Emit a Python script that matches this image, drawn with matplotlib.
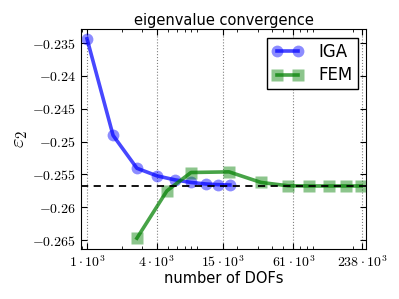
import matplotlib
matplotlib.use("Agg")
import matplotlib.pyplot as plt
from matplotlib.ticker import FixedLocator, FixedFormatter, FuncFormatter

plt.rcParams['mathtext.fontset'] = 'cm'
plt.rcParams['xtick.direction'] = 'in'
plt.rcParams['ytick.direction'] = 'in'
plt.rcParams['xtick.top'] = True
plt.rcParams['ytick.right'] = True

# data
iga_dofs = [1000, 1680, 2700, 4030, 5760, 7920, 10700, 13600, 17200]
iga_eig = [-0.23435, -0.24905, -0.25405, -0.25521, -0.25582, -0.25621,
           -0.25645, -0.25655, -0.25660]
fem_dofs = [2700, 4910, 7920, 16900, 31900, 54600, 83000, 123500, 173200, 233600]
fem_eig = [-0.26470, -0.25749, -0.25470, -0.25460, -0.25621, -0.25672,
           -0.25675, -0.25675, -0.25675, -0.25675]
ref_eig = -0.25672

x_ticks = [1000, 4000, 15000, 61000, 238000]
x_labels = [r'$1\cdot10^3$', r'$4\cdot10^3$', r'$15\cdot10^3$',
            r'$61\cdot10^3$', r'$238\cdot10^3$']

fig = plt.figure(figsize=(3.99, 2.99), dpi=100)
ax = fig.add_axes([0.203, 0.166, 0.714, 0.736])

ax.plot(iga_dofs, iga_eig, '-o', color=(0, 0, 1, 0.72), lw=2.6,
        ms=8.5, mfc=(0, 0, 1, 0.45), mec=(0, 0, 1, 0.0), label='IGA')
ax.plot(fem_dofs, fem_eig, '-s', color=(0, 0.5, 0, 0.72), lw=2.6,
        ms=8.5, mfc=(0, 0.5, 0, 0.45), mec=(0, 0.5, 0, 0.0), label='FEM')
ax.axhline(ref_eig, color='k', ls='--', lw=1.3, dashes=(4, 3))

ax.set_xscale('log')
ax.set_xlim(887, 258000)
ax.set_ylim(-0.2664, -0.2329)
ax.xaxis.set_major_locator(FixedLocator(x_ticks))
ax.xaxis.set_major_formatter(FixedFormatter(x_labels))
ax.yaxis.set_major_formatter(FuncFormatter(lambda v, p: r'$%g$' % round(v, 4)))
ax.grid(True, axis='x', which='major', ls=':', color='gray', lw=0.8)
ax.tick_params(labelsize=10)
ax.tick_params(which='major', length=4)
ax.tick_params(which='minor', length=2)

ax.set_title('eigenvalue convergence', fontsize=10.5, pad=3)
ax.set_xlabel('number of DOFs', fontsize=10.5, labelpad=1)
ax.set_ylabel(r'$\varepsilon_2$', fontsize=15, labelpad=2)

leg = ax.legend(loc='upper right', numpoints=2, fontsize=12, fancybox=False,
                framealpha=1, edgecolor='k', handlelength=1.9,
                handletextpad=0.9, labelspacing=0.35, borderpad=0.3,
                borderaxespad=0.5)
leg.get_frame().set_linewidth(1.0)

plt.savefig("out.png", dpi=100)
